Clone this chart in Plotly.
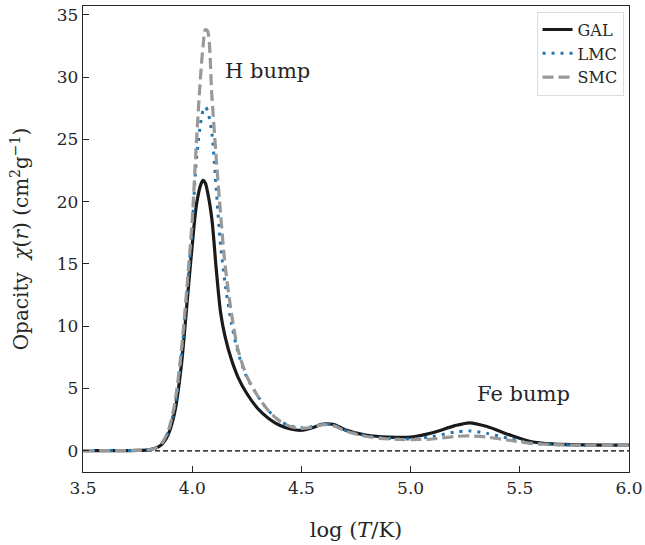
import plotly.graph_objects as go

log_T = [3.5, 3.6, 3.7, 3.75, 3.8, 3.83, 3.86, 3.89, 3.92, 3.95, 3.98, 4.0, 4.02, 4.04, 4.05,
         4.06, 4.07, 4.09, 4.11, 4.13, 4.15, 4.18, 4.21, 4.25, 4.3, 4.35, 4.4, 4.45, 4.5,
         4.55, 4.6, 4.65, 4.7, 4.8, 4.9, 5.0, 5.1, 5.2, 5.27, 5.35, 5.45, 5.55, 5.65, 5.8, 6.0]

gal = [0.02, 0.02, 0.02, 0.03, 0.08, 0.2, 0.5, 1.3, 3.1, 6.8, 12.6, 16.5, 19.8, 21.4, 21.7,
       21.5, 20.8, 18.6, 14.6, 11.1, 9.2, 7.3, 5.9, 4.6, 3.4, 2.6, 2.05, 1.75, 1.65,
       1.85, 2.15, 2.1, 1.7, 1.25, 1.1, 1.1, 1.45, 2.0, 2.25, 1.95, 1.3, 0.75, 0.55, 0.47, 0.45]

lmc = [0.02, 0.02, 0.02, 0.03, 0.08, 0.2, 0.55, 1.5, 3.5, 7.5, 13.5, 18.0, 23.5, 26.5, 27.3,
       27.6, 27.3, 25.5, 21.0, 16.5, 13.5, 10.2, 7.9, 5.9, 4.4, 3.2, 2.4, 2.0, 1.85,
       1.95, 2.15, 2.05, 1.65, 1.2, 1.0, 0.95, 1.15, 1.5, 1.6, 1.4, 1.0, 0.65, 0.5, 0.45, 0.43]

smc = [0.02, 0.02, 0.02, 0.03, 0.08, 0.2, 0.6, 1.6, 3.8, 8.0, 14.0, 18.5, 25.0, 30.5, 32.5,
       33.8, 33.7, 28.5, 23.5, 19.0, 15.0, 11.0, 8.1, 6.0, 4.4, 3.2, 2.4, 1.95, 1.8,
       1.9, 2.1, 2.0, 1.6, 1.15, 0.95, 0.9, 0.95, 1.15, 1.2, 1.1, 0.85, 0.6, 0.5, 0.45, 0.43]

x_range = [3.5, 6.0]
y_range = [-1.7, 35.7]
x_ticks = [3.5, 4.0, 4.5, 5.0, 5.5, 6.0]
y_ticks = [0, 5, 10, 15, 20, 25, 30, 35]

FONT = "DejaVu Serif"
AX = "#262626"

fig = go.Figure()

fig.add_trace(go.Scatter(x=x_range, y=[0, 0], mode="lines", showlegend=False,
                         line=dict(color="black", width=1.3, dash="5px,3px"), hoverinfo="skip"))

fig.add_trace(go.Scatter(x=log_T, y=gal, name="GAL", mode="lines",
                         line=dict(color="#1a1a1a", width=3.2, shape="spline", smoothing=0.8)))
fig.add_trace(go.Scatter(x=log_T, y=lmc, name="LMC", mode="lines",
                         line=dict(color="#1f77b4", width=3, dash="3px,6px", shape="spline", smoothing=0.8)))
fig.add_trace(go.Scatter(x=log_T, y=smc, name="SMC", mode="lines",
                         line=dict(color="#999999", width=3.2, dash="11px,5px", shape="spline", smoothing=0.8)))

fig.add_annotation(x=4.347, y=30.5, text="H bump", showarrow=False,
                   font=dict(family=FONT, size=21, color="#262626"))
fig.add_annotation(x=5.515, y=4.6, text="Fe bump", showarrow=False,
                   font=dict(family=FONT, size=21, color="#262626"))

axis_common = dict(showline=True, linecolor=AX, linewidth=1.3, mirror=True,
                   ticks="inside", ticklen=6, tickwidth=1.3, tickcolor=AX,
                   showgrid=False, zeroline=False, automargin=False,
                   tickfont=dict(family=FONT, size=17, color=AX))

fig.update_xaxes(range=x_range, tickvals=x_ticks, ticktext=[f"{v:.1f}" for v in x_ticks],
                 title=dict(text="log (<i>T</i>/K)", font=dict(family=FONT, size=21, color=AX), standoff=25),
                 **axis_common)
fig.update_yaxes(range=y_range, tickvals=y_ticks,
                 title=dict(text="Opacity  <i>χ</i>(<i>r</i>) (cm<sup>2</sup>g<sup>−1</sup>)",
                            font=dict(family=FONT, size=20, color=AX), standoff=22),
                 **axis_common)

fig.update_layout(
    width=645, height=545,
    margin=dict(l=83, r=16, t=6, b=73),
    paper_bgcolor="white", plot_bgcolor="white",
    font=dict(family=FONT, color=AX),
    legend=dict(x=0.99, y=0.988, xanchor="right", yanchor="top",
                bgcolor="rgba(255,255,255,0.9)", bordercolor="#dddddd", borderwidth=1,
                font=dict(family=FONT, size=16, color=AX),
                tracegroupgap=0),
)

fig.write_html("out.html", config={"displayModeBar": False},
               post_script="document.body.style.margin='0';")
